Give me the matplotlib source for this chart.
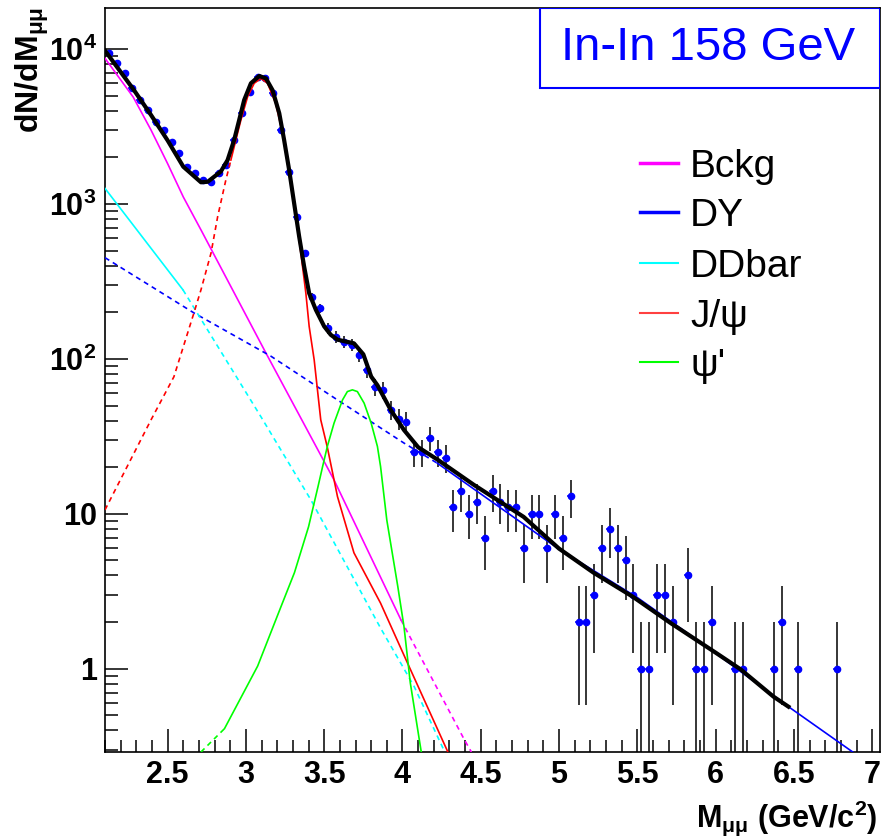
import numpy as np
import matplotlib
matplotlib.use("Agg")
import matplotlib.pyplot as plt
from matplotlib.ticker import MultipleLocator, LogLocator, NullFormatter
from matplotlib.patches import Rectangle

# dimuon mass spectrum, In-In 158 GeV, fit with the usual components
plt.rcParams['font.family'] = ['Liberation Sans', 'DejaVu Sans']
plt.rcParams['mathtext.fontset'] = 'custom'
plt.rcParams['mathtext.rm'] = 'Liberation Sans:bold'
plt.rcParams['mathtext.it'] = 'Liberation Sans:bold:italic'
plt.rcParams['mathtext.bf'] = 'Liberation Sans:bold'
plt.rcParams['mathtext.default'] = 'rm'

# data: counts per 0.05 GeV bin, first bin starts at 2.1 GeV
bin_start = 2.1
bin_width = 0.05
counts = [
    9460, 8090, 6970, 5570, 4680, 4040, 3400, 3000, 2510, 2120,
    1740, 1580, 1430, 1390, 1580, 1780, 2600, 3850, 5300, 6600,
    6500, 5200, 3000, 1600, 828, 479, 251, 212, 158, 139,
    129, 123, 106, 85, 66, 63, 47, 41, 39, 25,
    25, 31, 25, 23, 11, 14, 10, 12, 7, 14,
    12, 11, 11, 6, 10, 10, 6, 10, 7, 13,
    2, 2, 3, 6, 8, 6, 5, 3, 1, 1,
    3, 3, 2, 0, 4, 1, 1, 2, 0, 0,
    1, 1, 0, 0, 0, 1, 2, 0, 1, 0,
    0, 0, 0, 1, 0, 0, 0, 0, 0,
]

# fit components (mass in GeV, dN/dM)
bckg_m = [2.1, 2.28, 2.394, 2.5, 2.6, 2.713, 3.128, 3.562, 3.99, 4.394, 4.44]
bckg_y = [8710, 4900, 3000, 1820, 1110, 680, 109, 16.6, 2.07, 0.35, 0.29]

dy_m = [2.1, 2.668, 3.16, 3.585, 4.01, 4.223, 5.0, 5.5, 6.0, 6.465, 6.88]
dy_y = [450, 198, 104, 54.3, 28.6, 21.2, 5.9, 2.88, 1.26, 0.569, 0.288]

dd_m = [2.1, 2.598, 3.096, 3.415, 3.86, 4.074, 4.27]
dd_y = [1260, 279, 42.3, 12.3, 1.83, 0.77, 0.29]

jpsi_m = [2.1, 2.394, 2.54, 2.668, 2.713, 2.777, 2.82, 2.872, 2.904, 2.936,
          2.968, 3.011, 3.053, 3.096, 3.138, 3.19, 3.234, 3.276, 3.319, 3.351,
          3.383, 3.404, 3.436, 3.478, 3.52, 3.585, 3.69, 3.86, 4.03, 4.29]
jpsi_y = [10.6, 40.4, 76.6, 198, 279, 481, 832, 1430, 1920, 2590,
          3480, 4920, 6010, 6460, 6010, 4470, 2860, 1580, 871, 481,
          265, 162, 98.6, 40.4, 26.9, 12.9, 5.6, 2.65, 1.1, 0.29]

psi2_m = [2.713, 2.863, 3.075, 3.223, 3.31, 3.40, 3.46, 3.49, 3.52, 3.563,
          3.617, 3.648, 3.68, 3.712, 3.755, 3.80, 3.84, 3.86, 3.9, 3.97,
          4.01, 4.05, 4.12]
psi2_y = [0.29, 0.41, 1.04, 2.5, 4.17, 8.24, 14.9, 20.2, 27.2, 38.5,
          54.3, 61.5, 63.1, 61.5, 51.8, 38.5, 27.2, 20.2, 9.1, 3.4,
          1.86, 0.81, 0.29]

total_m = [2.1, 2.285, 2.394, 2.5, 2.6, 2.713, 2.756, 2.84, 2.883, 2.925,
           2.957, 2.989, 3.032, 3.085, 3.128, 3.17, 3.213, 3.244, 3.276, 3.308,
           3.34, 3.372, 3.404, 3.447, 3.50, 3.542, 3.585, 3.69, 3.75, 3.80,
           3.84, 3.925, 4.01, 4.1, 4.223, 4.455, 4.774, 5.0, 5.22, 5.47,
           5.71, 6.0, 6.16, 6.37, 6.465]
total_y = [9770, 5430, 3750, 2570, 1740, 1380, 1390, 1620, 1920, 2590,
           3480, 4690, 6010, 6700, 6460, 5430, 3850, 2590, 1660, 1010,
           617, 394, 265, 207, 162, 143, 133, 126, 107, 76.9,
           67.6, 46.8, 34.7, 26.9, 22.4, 15.4, 9.55, 5.96, 4.17, 2.92,
           1.98, 1.27, 0.99, 0.66, 0.569]

fig = plt.figure(figsize=(8.89, 8.39), dpi=100)
ax = fig.add_axes([105 / 889, 87 / 839, 775 / 889, 744 / 839])
ax.set_yscale('log')
ax.set_xlim(2.1, 7.05)
ax.set_ylim(0.29, 1.84e4)

# data points with sqrt(N) errors
counts = np.array(counts, dtype=float)
mass = bin_start + bin_width * (np.arange(len(counts)) + 0.5)
keep = counts > 0
m = mass[keep]
n = counts[keep]
err = np.sqrt(n)
lo = np.minimum(err, n - 1e-3)
ax.errorbar(m, n, yerr=[lo, err], fmt='none', ecolor='black', elinewidth=1.1,
            capsize=0, zorder=2)
ax.errorbar(m, n, xerr=bin_width / 2, fmt='o', color='blue', ms=4.5,
            elinewidth=1.1, capsize=0, zorder=3)


def draw_component(x, y, fit_lo, fit_hi, color, lw=1.2):
    # solid inside the fit range, dashed outside (like ROOT does)
    x = np.array(x)
    y = np.array(y)
    inside = (x >= fit_lo) & (x <= fit_hi)
    ax.plot(x[inside], y[inside], color=color, lw=lw, zorder=4)
    left = x <= fit_lo
    right = x >= fit_hi
    for part in (left, right):
        if part.sum() > 1:
            ax.plot(x[part], y[part], color=color, lw=lw, ls=(0, (3, 2.5)), zorder=4)


draw_component(bckg_m, bckg_y, 2.1, 3.99, '#ff00ff')
draw_component(dy_m, dy_y, 4.223, 7.05, '#0000ff')
draw_component(dd_m, dd_y, 2.1, 2.598, '#00ffff')
draw_component(jpsi_m, jpsi_y, 2.904, 4.5, '#ff0000')
draw_component(psi2_m, psi2_y, 2.863, 4.5, '#00ff00')
ax.plot(total_m, total_y, color='black', lw=3, zorder=5)

# axes in ROOT style
ax.set_xticks([2.5, 3, 3.5, 4, 4.5, 5, 5.5, 6, 6.5, 7])
ax.set_xticklabels(['2.5', '3', '3.5', '4', '4.5', '5', '5.5', '6', '6.5', '7'],
                   fontweight='bold')
ax.xaxis.set_minor_locator(MultipleLocator(0.1))
ax.set_yticks([1, 10, 100, 1000, 10000])
ax.set_yticklabels(['1', '10', '$10^{2}$', '$10^{3}$', '$10^{4}$'], fontweight='bold')
ax.yaxis.set_minor_locator(LogLocator(base=10, subs=np.arange(2, 10)))
ax.yaxis.set_minor_formatter(NullFormatter())
ax.tick_params(which='major', direction='in', length=16.5, width=1.1,
               labelsize=22, pad=6, top=False, right=False)
ax.tick_params(which='minor', direction='in', length=9, width=1.1,
               top=False, right=False)
for s in ax.spines.values():
    s.set_linewidth(1.2)

fig.text(877 / 889, 1 - 818 / 839, r'M$_{\mu\mu}$ (GeV/c$^{2}$)', fontsize=22,
         fontweight='bold', ha='right', va='center')
fig.text(32 / 889, 1 - 7 / 839, r'dN/dM$_{\mu\mu}$', fontsize=23,
         fontweight='bold', rotation=90, ha='center', va='top')

# title box
ax.add_patch(Rectangle((0.561, 0.8925), 0.439, 0.1075, transform=ax.transAxes,
                       fc='white', ec='blue', lw=1.5, zorder=6))
ax.text(0.778, 0.946, 'In-In 158 GeV', transform=ax.transAxes, fontsize=34,
        color='blue', ha='center', va='center', zorder=7)

# legend, drawn by hand
labels = ['Bckg', 'DY', 'DDbar', 'J/ψ', "ψ'"]
colors = ['#ff00ff', '#0000ff', '#00ffff', '#ff4040', '#00ff00']
widths = [2.5, 2.5, 1.5, 1.5, 1.5]
rows = [0.792, 0.726, 0.657, 0.590, 0.524]
for lab, col, w, yy in zip(labels, colors, widths, rows):
    ax.plot([0.690, 0.739], [yy, yy], transform=ax.transAxes, color=col, lw=w,
            clip_on=False)
    ax.text(0.755, yy, lab, transform=ax.transAxes, fontsize=28,
            ha='left', va='center_baseline')

fig.savefig('out.png', dpi=100)
